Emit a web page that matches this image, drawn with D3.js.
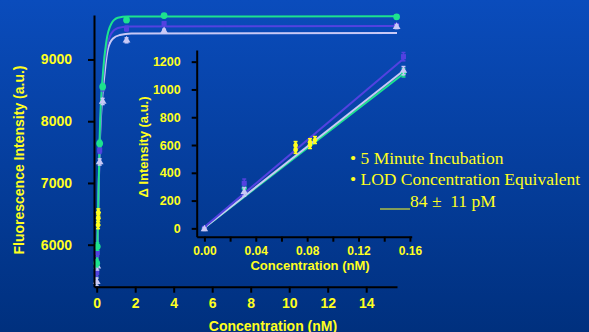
<!DOCTYPE html>
<html>
<head>
<meta charset="utf-8">
<script src="https://cdn.jsdelivr.net/npm/d3@7"></script>
<style>
  html, body { margin: 0; padding: 0; background: #003a9a; }
  svg { display: block; }
  .tick text { font-family: "Liberation Sans", Arial, sans-serif; font-weight: bold; fill: #ffff1e; }
  .domain, .tick line { stroke: #000; stroke-width: 2; }
  .title { font-family: "Liberation Sans", Arial, sans-serif; font-weight: bold; fill: #ffff1e; }
  .note { font-family: "Liberation Serif", "Times New Roman", serif; fill: #ffff1e; font-size: 17.5px; }
</style>
</head>
<body>
<svg id="chart" width="589" height="332"></svg>
<script>
// main plot: concentration (nM) vs fluorescence intensity (a.u.)
const mainConc = [0, 0.031, 0.155, 0.31, 1.55, 3.5, 15.58];
const greenMain = [5700, 5970, 7640, 8560, 9640, 9710, 9690];
const blueMain = [5550, 5870, 7530, 8540, 9500, 9580, 9550];
const lavMain = [5400, 5650, 7340, 8320, 9310, 9460, 9530];
const errMain = [60, 60, 50, 50, 40, 30, 30];
const yellowConc = [0.071, 0.082, 0.086];
const yellowMain = [6320, 6430, 6520];

// fit curves [conc, intensity]
const greenFit = [[0, 5350], [0.08, 6650], [0.16, 7800], [0.33, 8800], [0.5, 9290], [0.76, 9580], [1.1, 9675], [1.6, 9695], [15.6, 9700]];
const blueFit = [[0, 5350], [0.08, 6600], [0.16, 7700], [0.33, 8700], [0.5, 9150], [0.76, 9420], [1.1, 9510], [1.6, 9535], [15.6, 9540]];
const lavFit = [[0, 5350], [0.08, 6550], [0.16, 7650], [0.42, 8800], [0.59, 9180], [0.85, 9340], [1.2, 9395], [1.8, 9420], [15.6, 9430]];

// inset: low concentration, delta intensity
const insetConc = [0, 0.031, 0.155];
const greenInset = [0, 290, 1120];
const blueInset = [0, 325, 1236];
const lavInset = [-5, 262, 1135];
const errInset = [10, 30, 30];
const yellowInsetConc = [0.071, 0.071, 0.0822, 0.0822, 0.0861];
const yellowInset = [600, 565, 620, 600, 636];
const greenLine = [[0, 5], [0.156, 1120]];
const blueLine = [[0, 10], [0.156, 1228]];
const lavLine = [[0, 5], [0.156, 1142]];

const mainXTicks = [0, 2, 4, 6, 8, 10, 12, 14];
const mainYTicks = [6000, 7000, 8000, 9000];
const insetXTicks = [0, 0.02, 0.04, 0.06, 0.08, 0.1, 0.12, 0.14, 0.16];
const insetYTicks = [0, 200, 400, 600, 800, 1000, 1200];

const GREEN = '#1de38e', BLUE = '#5342e0', LAV = '#c9c9f6', YEL = '#ffff1e';

const svg = d3.select('#chart');
const defs = svg.append('defs');
const grad = defs.append('linearGradient').attr('id', 'bg')
    .attr('x1', 0).attr('y1', 0).attr('x2', 0).attr('y2', 1);
grad.append('stop').attr('offset', '0%').attr('stop-color', '#0a4cbc');
grad.append('stop').attr('offset', '100%').attr('stop-color', '#00307e');
svg.append('rect').attr('width', 589).attr('height', 332).attr('fill', 'url(#bg)');

// ---- main chart
const x = d3.scaleLinear().domain([-0.14, 15.6]).range([94, 397]);
const y = d3.scaleLinear().domain([5320, 9720]).range([286.7, 15]);

const mainLine = d3.line()
    .x(d => x(d[0]))
    .y(d => y(d[1]))
    .curve(d3.curveMonotoneX);

const main = svg.append('g');
[[lavFit, LAV], [blueFit, BLUE], [greenFit, GREEN]].forEach(([pts, col]) => {
    main.append('path').attr('d', mainLine(pts))
        .attr('fill', 'none').attr('stroke', col).attr('stroke-width', 2);
});

function errorBars(g, xs, ys, errs, sx, sy, col) {
    xs.forEach((c, i) => {
        const px = sx(c);
        const e = Array.isArray(errs) ? errs[i] : errs;
        g.append('line').attr('x1', px).attr('x2', px)
            .attr('y1', sy(ys[i] - e)).attr('y2', sy(ys[i] + e))
            .attr('stroke', col).attr('stroke-width', 1.5);
        [ys[i] - e, ys[i] + e].forEach(v => {
            g.append('line').attr('x1', px - 2).attr('x2', px + 2)
                .attr('y1', sy(v)).attr('y2', sy(v))
                .attr('stroke', col).attr('stroke-width', 1.5);
        });
    });
}

function markers(g, xs, ys, sx, sy, col, shape, size) {
    const sym = d3.symbol().type(shape).size(size);
    g.selectAll(null).data(xs).enter().append('path')
        .attr('d', sym)
        .attr('transform', (c, i) => `translate(${sx(c)},${sy(ys[i])})`)
        .attr('fill', col);
}

errorBars(main, mainConc, blueMain, errMain, x, y, BLUE);
markers(main, mainConc, blueMain, x, y, BLUE, d3.symbolSquare, 26);
errorBars(main, mainConc, lavMain, errMain, x, y, LAV);
markers(main, mainConc, lavMain, x, y, LAV, d3.symbolTriangle, 26);
errorBars(main, mainConc, greenMain, errMain, x, y, GREEN);
markers(main, mainConc, greenMain, x, y, GREEN, d3.symbolCircle, 36);
errorBars(main, yellowConc, yellowMain, 60, x, y, YEL);
markers(main, yellowConc, yellowMain, x, y, YEL, d3.symbolDiamond, 26);

svg.append('g').attr('transform', 'translate(0,286.7)')
    .call(d3.axisBottom(x).tickValues(mainXTicks).tickSize(6).tickSizeOuter(0).tickPadding(5)
        .tickFormat(d3.format('d')))
    .call(g => g.selectAll('text').style('font-size', '14px'));
svg.append('g').attr('transform', 'translate(94,0)')
    .call(d3.axisLeft(y).tickValues(mainYTicks).tickSize(6).tickSizeOuter(0).tickPadding(16)
        .tickFormat(d3.format('d')))
    .call(g => g.selectAll('text').style('font-size', '14px'));

svg.append('text').attr('class', 'title')
    .attr('transform', 'translate(24,160) rotate(-90)')
    .attr('text-anchor', 'middle').style('font-size', '14px')
    .text('Fluorescence Intensity (a.u.)');
svg.append('text').attr('class', 'title')
    .attr('x', 273).attr('y', 331)
    .attr('text-anchor', 'middle').style('font-size', '14px')
    .text('Concentration (nM)');

// ---- inset
const xi = d3.scaleLinear().domain([-0.006, 0.1614]).range([196.7, 411.7]);
const yi = d3.scaleLinear().domain([-60, 1284]).range([236.7, 50]);
const straight = d3.line().x(d => xi(d[0])).y(d => yi(d[1]));

const inset = svg.append('g');
[[greenLine, GREEN], [lavLine, LAV], [blueLine, BLUE]].forEach(([pts, col]) => {
    inset.append('path').attr('d', straight(pts))
        .attr('fill', 'none').attr('stroke', col).attr('stroke-width', 2);
});
errorBars(inset, insetConc, greenInset, errInset, xi, yi, GREEN);
markers(inset, insetConc, greenInset, xi, yi, GREEN, d3.symbolCircle, 22);
errorBars(inset, insetConc, blueInset, errInset, xi, yi, BLUE);
markers(inset, insetConc, blueInset, xi, yi, BLUE, d3.symbolSquare, 26);
errorBars(inset, insetConc, lavInset, errInset, xi, yi, LAV);
markers(inset, insetConc, lavInset, xi, yi, LAV, d3.symbolTriangle, 24);
errorBars(inset, yellowInsetConc, yellowInset, 25, xi, yi, YEL);
markers(inset, yellowInsetConc, yellowInset, xi, yi, YEL, d3.symbolDiamond, 22);

svg.append('g').attr('transform', 'translate(0,236.7)')
    .call(d3.axisBottom(xi).tickValues(insetXTicks).tickSize(5).tickSizeOuter(0).tickPadding(5)
        .tickFormat((d, i) => i % 2 === 0 ? d3.format('.2f')(d) : ''))
    .call(g => g.selectAll('text').style('font-size', '12px'));
svg.append('g').attr('transform', 'translate(196.7,0)')
    .call(d3.axisLeft(yi).tickValues(insetYTicks).tickSize(5).tickSizeOuter(0).tickPadding(11)
        .tickFormat(d3.format('d')))
    .call(g => g.selectAll('text').style('font-size', '12.5px'));

svg.append('text').attr('class', 'title')
    .attr('transform', 'translate(148,147) rotate(-90)')
    .attr('text-anchor', 'middle').style('font-size', '13px')
    .text('Δ Intensity (a.u.)');
svg.append('text').attr('class', 'title')
    .attr('x', 310).attr('y', 270)
    .attr('text-anchor', 'middle').style('font-size', '13px')
    .text('Concentration (nM)');

// ---- notes
svg.append('text').attr('class', 'note').attr('x', 350).attr('y', 164).text('• 5 Minute Incubation');
svg.append('text').attr('class', 'note').attr('x', 350).attr('y', 185).text('• LOD Concentration Equivalent');
svg.append('line').attr('x1', 380).attr('x2', 410).attr('y1', 209).attr('y2', 209)
    .attr('stroke', YEL).attr('stroke-width', 1);
svg.append('text').attr('class', 'note').attr('x', 410).attr('y', 206.5).text('84 ±  11 pM')
    .attr('xml:space', 'preserve').style('white-space', 'pre');
</script>
</body>
</html>
